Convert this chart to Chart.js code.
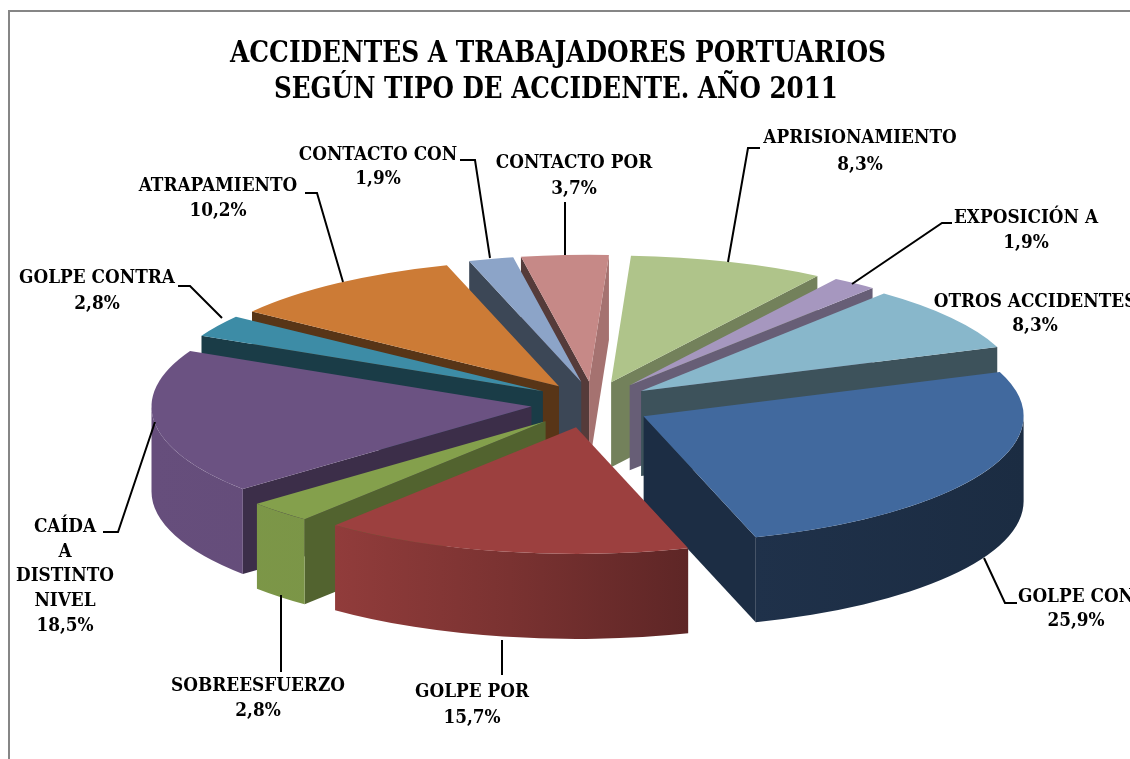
<!DOCTYPE html>
<html><head><meta charset="utf-8">
<style>html,body{margin:0;padding:0;background:#fff;overflow:hidden}canvas{display:block}</style>
<script src="https://cdn.jsdelivr.net/npm/chart.js@4"></script>
</head><body><canvas id="c" width="1130" height="759"></canvas>
<script>
const categories = ["APRISIONAMIENTO","EXPOSICIÓN A","OTROS ACCIDENTES","GOLPE CON","GOLPE POR","SOBREESFUERZO","CAÍDA A DISTINTO NIVEL","GOLPE CONTRA","ATRAPAMIENTO","CONTACTO CON","CONTACTO POR"];
const values = [8.3,1.9,8.3,25.9,15.7,2.8,18.5,2.8,10.2,1.9,3.7];
const colors = ["#AFC48A","#A697BF","#88B7CB","#41699E","#9C403F","#84A04C","#6B5282","#3D8CA6","#CC7B36","#8CA4C8","#C68987"];
const labelLines = [["APRISIONAMIENTO"],["EXPOSICIÓN A"],["OTROS ACCIDENTES"],["GOLPE CON"],["GOLPE POR"],["SOBREESFUERZO"],["CAÍDA","A","DISTINTO","NIVEL"],["GOLPE CONTRA"],["ATRAPAMIENTO"],["CONTACTO CON"],["CONTACTO POR"]];
const titleLines = ["ACCIDENTES A TRABAJADORES PORTUARIOS","SEGÚN TIPO DE ACCIDENTE. AÑO 2011"];

/* layout of the labels, leaders and slice placement, separate from the data */
const labelAnchors = [[860,138],[1026,218],[1035,302],[1076,597],[472,692],[258,686],[65,527],[97,278],[218,186],[378,155],[574,163]];
const labelStep = [27,25,24,24,26,25,24.7,26,25,24,26];
const leaders = [
 [[728,262],[748,148],[760,148]],
 [[852,284],[942,223],[952,223]],
 null,
 [[984,558],[1005,603],[1017,603]],
 [[502,640],[502,675]],
 [[281,595],[281,672]],
 [[155,422],[118,532],[103,532]],
 [[222,318],[190,286],[178,286]],
 [[343,282],[317,193],[305,193]],
 [[490,258],[475,160],[460,160]],
 [[565,255],[565,202]]
];
const sliceNudge = [[3,-3],[4,-3],[1.5,-2],[-1,2],[-1,2],[0,1.5],[4,-1],[7,-3],[6,-2],[7,-3],[4,-3]];
const view = {cx:589, cy:405, squash:1/3, depth:85, explode:62, radius:380};
const FONT = '"DejaVu Serif Condensed", "DejaVu Serif", serif';

function shade(hex,f){
  const n=parseInt(hex.slice(1),16);
  const c=[n>>16&255,n>>8&255,n&255].map(v=>Math.round(v*f));
  return `rgb(${c[0]},${c[1]},${c[2]})`;
}
function wallFactor(normalDeg){
  const n=Math.abs(normalDeg);
  return Math.max(0.43,0.85-0.0058*n);
}
const wallStops=[[0,.95],[.21,.93],[.41,.78],[.615,.6],[.69,.47],[1,.42]];

const pie3d = {
  id:'pie3d',
  beforeDraw(chart){
    const ctx=chart.ctx;
    ctx.save();
    ctx.fillStyle='#fff';ctx.fillRect(0,0,chart.width,chart.height);
    ctx.strokeStyle='#868686';ctx.lineWidth=2;
    ctx.beginPath();ctx.moveTo(9,chart.height);ctx.lineTo(9,11);ctx.lineTo(chart.width,11);ctx.stroke();
    ctx.restore();
  },
  beforeDatasetDraw(chart,args){
    const ctx=chart.ctx, meta=args.meta, v=view, s=v.squash;
    const order=meta.data.map((a,i)=>{
      const mid=(a.startAngle+a.endAngle)/2;
      return {a,i,mid,sin:Math.sin(mid)};
    }).sort((p,q)=>p.sin-q.sin);
    for(const {a,i,mid} of order){
      const ox=v.cx+sliceNudge[i][0]+v.explode*Math.cos(mid), oy=v.cy+sliceNudge[i][1]+v.explode*Math.sin(mid)*s;
      const R=a.outerRadius, col=colors[i], d=v.depth;
      const pt=(ang)=>[ox+R*Math.cos(ang),oy+R*Math.sin(ang)*s];
      const flat=(ang,normal)=>{
        let deg=((normal*180/Math.PI)%360+360)%360;
        if(deg>=180) return;
        const p=pt(ang);
        ctx.fillStyle=shade(col,wallFactor(deg>90?90:deg));
        ctx.beginPath();ctx.moveTo(ox,oy);ctx.lineTo(p[0],p[1]);ctx.lineTo(p[0],p[1]+d);ctx.lineTo(ox,oy+d);ctx.closePath();ctx.fill();
      };
      flat(a.startAngle,a.startAngle-Math.PI/2);
      flat(a.endAngle,a.endAngle+Math.PI/2);
      for(const k of [0,2]){
        const lo=Math.max(a.startAngle,k*Math.PI), hi=Math.min(a.endAngle,(k+1)*Math.PI);
        if(hi<=lo) continue;
        const g=ctx.createLinearGradient(152,0,1025,0);
        wallStops.forEach(([t,f])=>g.addColorStop(t,shade(col,f)));
        ctx.fillStyle=g;
        ctx.beginPath();
        ctx.ellipse(ox,oy,R,R*s,0,lo,hi,false);
        ctx.ellipse(ox,oy+d,R,R*s,0,hi,lo,true);
        ctx.closePath();ctx.fill();
      }
      ctx.save();
      ctx.translate(ox,oy);ctx.scale(1,s);ctx.translate(-a.x,-a.y);
      a.draw(ctx);
      ctx.restore();
    }
    return false;
  },
  afterDraw(chart){
    const ctx=chart.ctx;
    ctx.save();
    ctx.strokeStyle='#000';ctx.lineWidth=2;ctx.lineJoin='miter';
    leaders.forEach(l=>{
      if(!l) return;
      ctx.beginPath();l.forEach((p,i)=>i?ctx.lineTo(p[0],p[1]):ctx.moveTo(p[0],p[1]));ctx.stroke();
    });
    ctx.fillStyle='#000';ctx.textAlign='center';ctx.textBaseline='middle';
    ctx.font='bold 30px '+FONT;
    ctx.fillText(titleLines[0],558,54,656);
    ctx.fillText(titleLines[1],556,90,564);
    ctx.font='bold 18.8px '+FONT;
    labelLines.forEach((lines,i)=>{
      const [x,y]=labelAnchors[i], st=labelStep[i];
      const all=lines.concat([values[i].toFixed(1).replace('.',',')+'%']);
      all.forEach((t,j)=>ctx.fillText(t,x,y+j*st));
    });
    ctx.restore();
  }
};

new Chart(document.getElementById('c'),{
  type:'pie',
  data:{labels:categories,datasets:[{data:values,backgroundColor:colors,borderWidth:0,radius:view.radius,offset:0}]},
  options:{
    responsive:false,animation:false,rotation:3,
    plugins:{legend:{display:false},tooltip:{enabled:false},title:{display:false}}
  },
  plugins:[pie3d]
});
</script></body></html>
